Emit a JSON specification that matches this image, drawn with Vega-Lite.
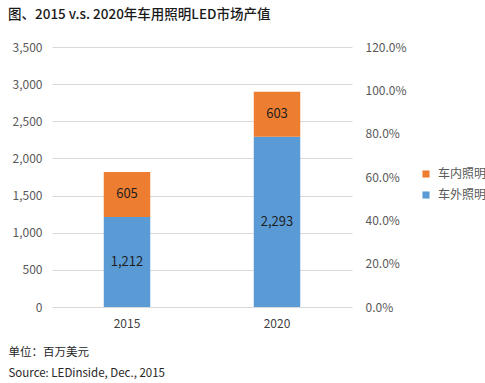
{
  "$schema": "https://vega.github.io/schema/vega-lite/v6.json",
  "autosize": {"type": "none"},
  "width": 300,
  "height": 260,
  "padding": {"left": 52, "top": 47, "right": 133, "bottom": 76},
  "background": "white",
  "config": {
    "font": "Noto Sans CJK SC",
    "view": {"stroke": null}
  },
  "title": {
    "text": "图、2015 v.s. 2020年车用照明LED市场产值",
    "anchor": "start",
    "frame": "group",
    "fontSize": 13.5,
    "fontWeight": 500,
    "color": "#1a1a1a",
    "dx": -44,
    "offset": 20
  },
  "data": {
    "values": [
      {"year": "2015", "type": "车外照明", "value": 1212},
      {"year": "2015", "type": "车内照明", "value": 605},
      {"year": "2020", "type": "车外照明", "value": 2293},
      {"year": "2020", "type": "车内照明", "value": 603}
    ]
  },
  "layer": [
    {
      "layer": [
        {
          "mark": {"type": "bar"},
          "encoding": {
            "x": {
              "field": "year",
              "type": "nominal",
              "scale": {"paddingInner": 0.69, "paddingOuter": 0.345},
              "axis": {
                "labelAngle": 0,
                "labelFontSize": 12,
                "labelColor": "#404040",
                "labelPadding": 11,
                "domain": false,
                "ticks": false,
                "title": ["单位：百万美元", "Source: LEDinside, Dec., 2015"],
                "titleAnchor": "start",
                "titleAlign": "left",
                "titleX": -44,
                "titleY": 39,
                "titleBaseline": "top",
                "titleFontSize": 11.5,
                "titleFontWeight": "normal",
                "titleColor": "#262626",
                "titleLineHeight": 21
              }
            },
            "y": {
              "field": "value",
              "type": "quantitative",
              "stack": "zero",
              "scale": {"domain": [0, 3500]},
              "axis": {
                "values": [0, 500, 1000, 1500, 2000, 2500, 3000, 3500],
                "format": ",.0f",
                "grid": true,
                "gridColor": "#d9d9d9",
                "domain": false,
                "ticks": false,
                "labelPadding": 10,
                "labelFontSize": 12,
                "labelColor": "#595959",
                "title": null
              }
            },
            "color": {
              "field": "type",
              "type": "nominal",
              "scale": {"domain": ["车内照明", "车外照明"], "range": ["#ED7D31", "#5B9BD5"]},
              "legend": {
                "orient": "none",
                "legendX": 368,
                "legendY": 121,
                "title": null,
                "symbolType": "square",
                "symbolSize": 50,
                "labelFontSize": 12,
                "labelColor": "#595959",
                "labelOffset": 6,
                "rowPadding": 9,
                "padding": 0
              }
            },
            "order": {"field": "type", "sort": "descending"}
          }
        },
        {
          "transform": [
            {"stack": "value", "groupby": ["year"], "as": ["v0", "v1"], "sort": [{"field": "type", "order": "descending"}]},
            {"calculate": "(datum.v0 + datum.v1) / 2", "as": "mid"}
          ],
          "mark": {"type": "text", "fontSize": 13, "color": "#1f1f1f"},
          "encoding": {
            "x": {"field": "year", "type": "nominal"},
            "y": {
              "field": "mid",
              "type": "quantitative",
              "axis": {
                "values": [0, 500, 1000, 1500, 2000, 2500, 3000, 3500],
                "format": ",.0f",
                "grid": true,
                "gridColor": "#d9d9d9",
                "domain": false,
                "ticks": false,
                "labelPadding": 10,
                "labelFontSize": 12,
                "labelColor": "#595959",
                "title": null
              }
            },
            "text": {"field": "value", "type": "quantitative", "format": ","}
          }
        }
      ]
    },
    {
      "mark": {"type": "point", "opacity": 0},
      "encoding": {
        "y": {
          "datum": 0,
          "type": "quantitative",
          "scale": {"domain": [0, 1.2]},
          "axis": {
            "orient": "right",
            "values": [0, 0.2, 0.4, 0.6, 0.8, 1.0, 1.2],
            "format": ".1%",
            "grid": false,
            "domain": false,
            "ticks": false,
            "labelPadding": 13,
            "labelFontSize": 12,
            "labelColor": "#595959",
            "title": null
          }
        }
      }
    }
  ],
  "resolve": {"scale": {"y": "independent"}}
}
